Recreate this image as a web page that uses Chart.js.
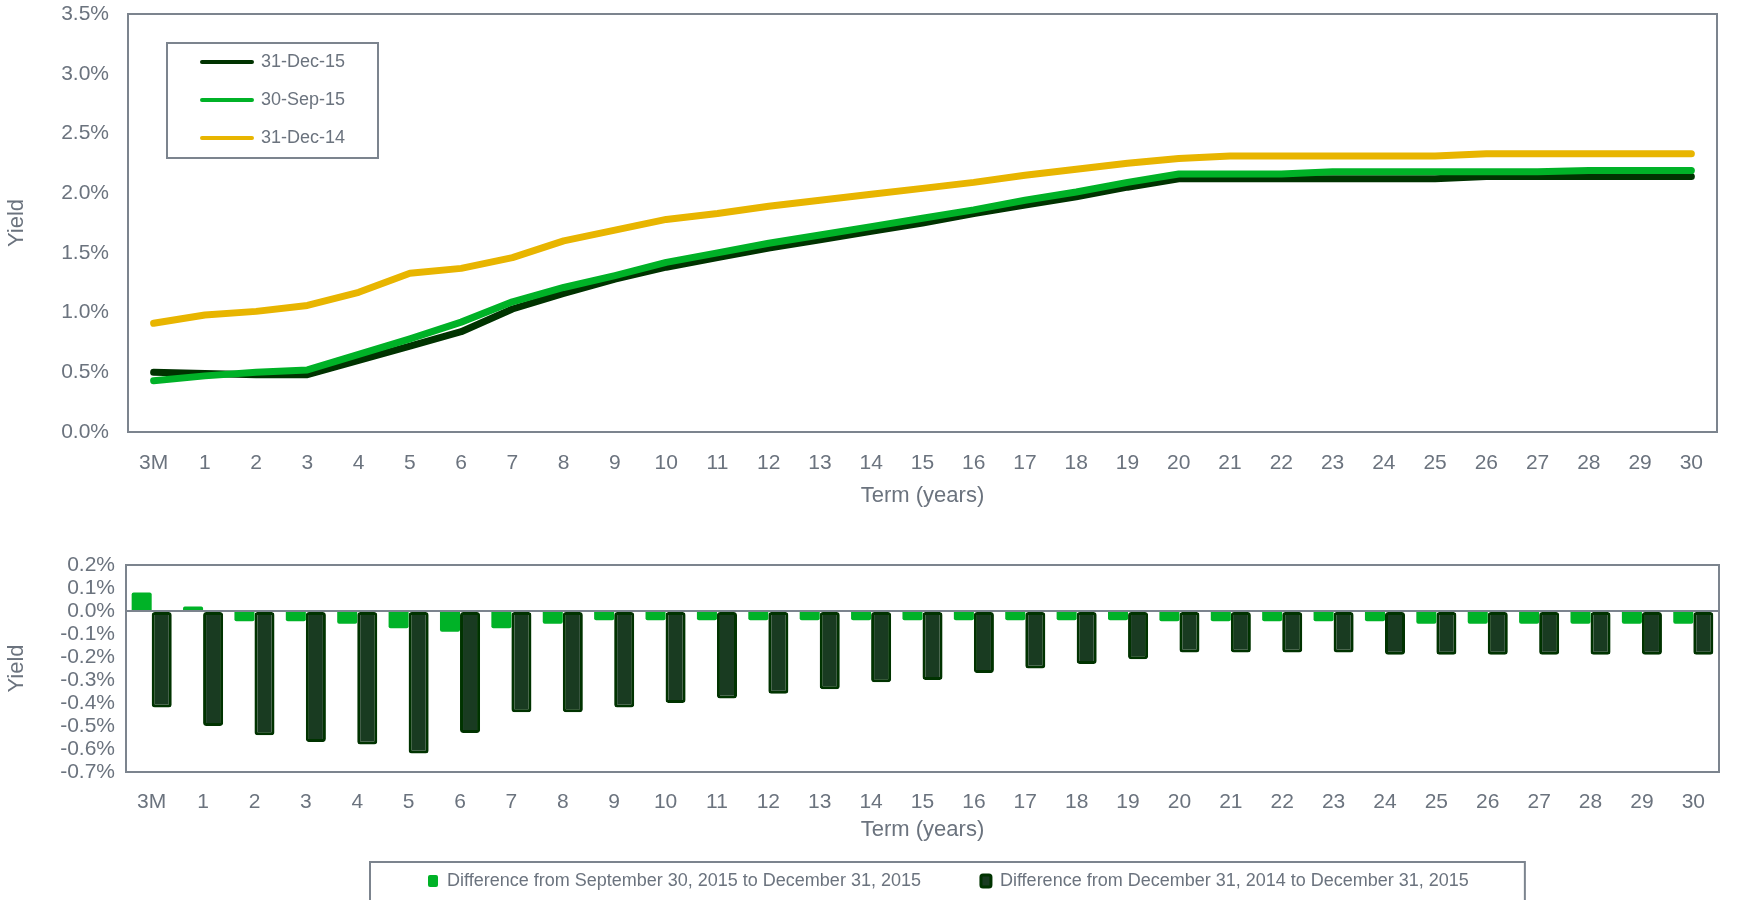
<!DOCTYPE html>
<html>
<head>
<meta charset="utf-8">
<script src="https://cdn.jsdelivr.net/npm/chart.js@4.4.1/dist/chart.umd.min.js"></script>
<style>
    html, body { margin: 0; padding: 0; background: #fff; overflow: hidden; }
    #yield-chart { position: absolute; left: 0; top: 0; }
    #diff-chart { position: absolute; left: 0; top: 540px; }
</style>
</head>
<body>
<canvas id="yield-chart" width="1763" height="520"></canvas>
<canvas id="diff-chart" width="1763" height="360"></canvas>
<script>
// categories
const terms = ['3M', '1', '2', '3', '4', '5', '6', '7', '8', '9', '10', '11', '12', '13', '14', '15',
    '16', '17', '18', '19', '20', '21', '22', '23', '24', '25', '26', '27', '28', '29', '30'];

// yield curves (%)
const dec15 = [0.50, 0.49, 0.48, 0.48, 0.60, 0.72, 0.84, 1.03, 1.16, 1.28, 1.38, 1.46, 1.54, 1.61, 1.68, 1.75,
    1.83, 1.90, 1.97, 2.05, 2.12, 2.12, 2.12, 2.12, 2.12, 2.12, 2.14, 2.14, 2.14, 2.14, 2.14];
const sep15 = [0.43, 0.47, 0.50, 0.52, 0.65, 0.78, 0.92, 1.09, 1.21, 1.31, 1.42, 1.50, 1.58, 1.65, 1.72, 1.79,
    1.86, 1.94, 2.01, 2.09, 2.16, 2.16, 2.16, 2.18, 2.18, 2.18, 2.18, 2.18, 2.19, 2.19, 2.19];
const dec14 = [0.91, 0.98, 1.01, 1.06, 1.17, 1.33, 1.37, 1.46, 1.60, 1.69, 1.78, 1.83, 1.89, 1.94, 1.99, 2.04,
    2.09, 2.15, 2.20, 2.25, 2.29, 2.31, 2.31, 2.31, 2.31, 2.31, 2.33, 2.33, 2.33, 2.33, 2.33];

// differences (%)
const diffFromSep15 = [0.08, 0.02, -0.045, -0.045, -0.055, -0.075, -0.09, -0.075, -0.055, -0.04, -0.04, -0.04, -0.04, -0.04, -0.04, -0.04,
    -0.04, -0.04, -0.04, -0.04, -0.045, -0.045, -0.045, -0.045, -0.045, -0.055, -0.055, -0.055, -0.055, -0.055, -0.055];
const diffFromDec14 = [-0.42, -0.50, -0.54, -0.57, -0.58, -0.62, -0.53, -0.44, -0.44, -0.42, -0.40, -0.38, -0.36, -0.34, -0.31, -0.30,
    -0.27, -0.25, -0.23, -0.21, -0.18, -0.18, -0.18, -0.18, -0.19, -0.19, -0.19, -0.19, -0.19, -0.19, -0.19];

const textColor = '#6b737e';
const frameColor = '#7c848e';
const darkGreen = '#003300';
const brightGreen = '#00b227';
const gold = '#e8b500';
const darkBarFill = '#193b21';

Chart.defaults.font.family = '"Liberation Sans", Arial, sans-serif';
Chart.defaults.color = textColor;
Chart.defaults.animation = false;

const pct = v => (Math.abs(v) < 1e-9 ? 0 : v).toFixed(1) + '%';

// plot area frame (all four sides)
const framePlugin = {
    id: 'frame',
    beforeDatasetsDraw(chart) {
        const {ctx, chartArea: a} = chart;
        ctx.save();
        ctx.strokeStyle = frameColor;
        ctx.lineWidth = 2;
        ctx.strokeRect(a.left, a.top, a.right - a.left, a.bottom - a.top);
        ctx.restore();
    }
};

// move legend inside the plot and draw a box round it
const topLegendPlugin = {
    id: 'topLegendBox',
    afterLayout(chart) {
        chart.legend.left = chart.chartArea.left + 54;
        chart.legend.top = chart.chartArea.top + 19;
    },
    afterDraw(chart) {
        const lg = chart.legend, ctx = chart.ctx;
        const p = lg.options.labels.padding;
        ctx.save();
        ctx.strokeStyle = frameColor;
        ctx.lineWidth = 2;
        ctx.strokeRect(lg.left + p - 35, lg.top + p - 10, 211, 115);
        ctx.restore();
    }
};

const bottomLegendPlugin = {
    id: 'bottomLegendBox',
    afterLayout(chart) {
        chart.legend.left = chart.chartArea.left + 242;
    },
    afterDraw(chart) {
        const lg = chart.legend, ctx = chart.ctx;
        const p = lg.options.labels.padding;
        const x0 = lg.left + p;
        ctx.save();
        ctx.strokeStyle = frameColor;
        ctx.lineWidth = 2;
        ctx.strokeRect(x0 - 58, lg.top + p - 10, lg.lineWidths[0] - p + 114, 200);
        ctx.restore();
    }
};

// keep the plot top/bottom where the layout padding says
function fixYAxis(width) {
    return scale => {
        scale.width = width;
        scale.paddingTop = 0;
        scale.paddingBottom = 0;
    };
}

function lineSet(label, data, color, order) {
    return {
        label: label,
        data: data,
        borderColor: color,
        backgroundColor: color,
        borderWidth: 7,
        pointRadius: 0,
        tension: 0,
        borderCapStyle: 'round',
        borderJoinStyle: 'round',
        order: order
    };
}

new Chart(document.getElementById('yield-chart'), {
    type: 'line',
    data: {
        labels: terms,
        datasets: [
            lineSet('31-Dec-15', dec15, darkGreen, 2),
            lineSet('30-Sep-15', sep15, brightGreen, 1),
            lineSet('31-Dec-14', dec14, gold, 3)
        ]
    },
    options: {
        responsive: false,
        events: [],
        layout: { padding: { top: 14, right: 46, left: 0, bottom: 0 } },
        plugins: {
            tooltip: { enabled: false },
            legend: {
                position: 'chartArea',
                align: 'start',
                labels: {
                    boxWidth: 50,
                    boxHeight: 0,
                    padding: 20,
                    color: textColor,
                    font: { size: 18 },
                    sort: (a, b) => a.datasetIndex - b.datasetIndex,
                    generateLabels(chart) {
                        const items = Chart.defaults.plugins.legend.labels.generateLabels(chart);
                        items.forEach(i => { i.lineWidth = 4; i.lineCap = 'round'; });
                        return items;
                    }
                }
            }
        },
        scales: {
            x: {
                offset: true,
                grid: { display: false },
                border: { display: false },
                ticks: { autoSkip: false, maxRotation: 0, padding: 11, font: { size: 21 } },
                title: { display: true, text: 'Term (years)', font: { size: 22 }, padding: { top: 0, bottom: 11 } },
                afterFit(scale) { scale.height = 88; }
            },
            y: {
                min: 0,
                max: 3.5,
                grid: { display: false },
                border: { display: false },
                ticks: { stepSize: 0.5, autoSkip: false, padding: 11, font: { size: 21 }, callback: pct },
                title: { display: true, text: 'Yield', font: { size: 22 }, padding: { top: 4, bottom: 0 } },
                afterFit: fixYAxis(128)
            }
        }
    },
    plugins: [framePlugin, topLegendPlugin]
});

new Chart(document.getElementById('diff-chart'), {
    type: 'bar',
    data: {
        labels: terms,
        datasets: [
            {
                label: 'Difference from September 30, 2015 to December 31, 2015',
                data: diffFromSep15,
                backgroundColor: brightGreen,
                borderColor: brightGreen,
                borderWidth: 0,
                borderRadius: 2,
                categoryPercentage: 0.78,
                barPercentage: 1.0
            },
            {
                label: 'Difference from December 31, 2014 to December 31, 2015',
                data: diffFromDec14,
                backgroundColor: darkBarFill,
                borderColor: darkGreen,
                borderWidth: 3,
                borderSkipped: false,
                borderRadius: 3,
                categoryPercentage: 0.78,
                barPercentage: 1.0
            }
        ]
    },
    options: {
        responsive: false,
        events: [],
        layout: { padding: { top: 25, right: 44, left: 0, bottom: 0 } },
        plugins: {
            tooltip: { enabled: false },
            legend: {
                position: 'bottom',
                align: 'start',
                labels: {
                    boxWidth: 10,
                    boxHeight: 12,
                    padding: 60,
                    color: textColor,
                    font: { size: 18 },
                    useBorderRadius: true,
                    borderRadius: 2
                }
            }
        },
        scales: {
            x: {
                grid: { display: false },
                border: { display: false },
                ticks: { autoSkip: false, maxRotation: 0, padding: 10, font: { size: 21 } },
                title: { display: true, text: 'Term (years)', font: { size: 22 }, padding: { top: 0, bottom: -31 } },
                afterFit(scale) { scale.height = 40; }
            },
            y: {
                min: -0.7,
                max: 0.2,
                border: { display: false },
                grid: {
                    drawTicks: false,
                    lineWidth: 2,
                    color: c => (c.tick && Math.abs(c.tick.value) < 1e-9) ? frameColor : 'rgba(0,0,0,0)'
                },
                ticks: { stepSize: 0.1, autoSkip: false, padding: 11, font: { size: 21 }, callback: pct },
                title: { display: true, text: 'Yield', font: { size: 22 }, padding: { top: 4, bottom: 0 } },
                afterFit: fixYAxis(126)
            }
        }
    },
    plugins: [framePlugin, bottomLegendPlugin]
});
</script>
</body>
</html>
